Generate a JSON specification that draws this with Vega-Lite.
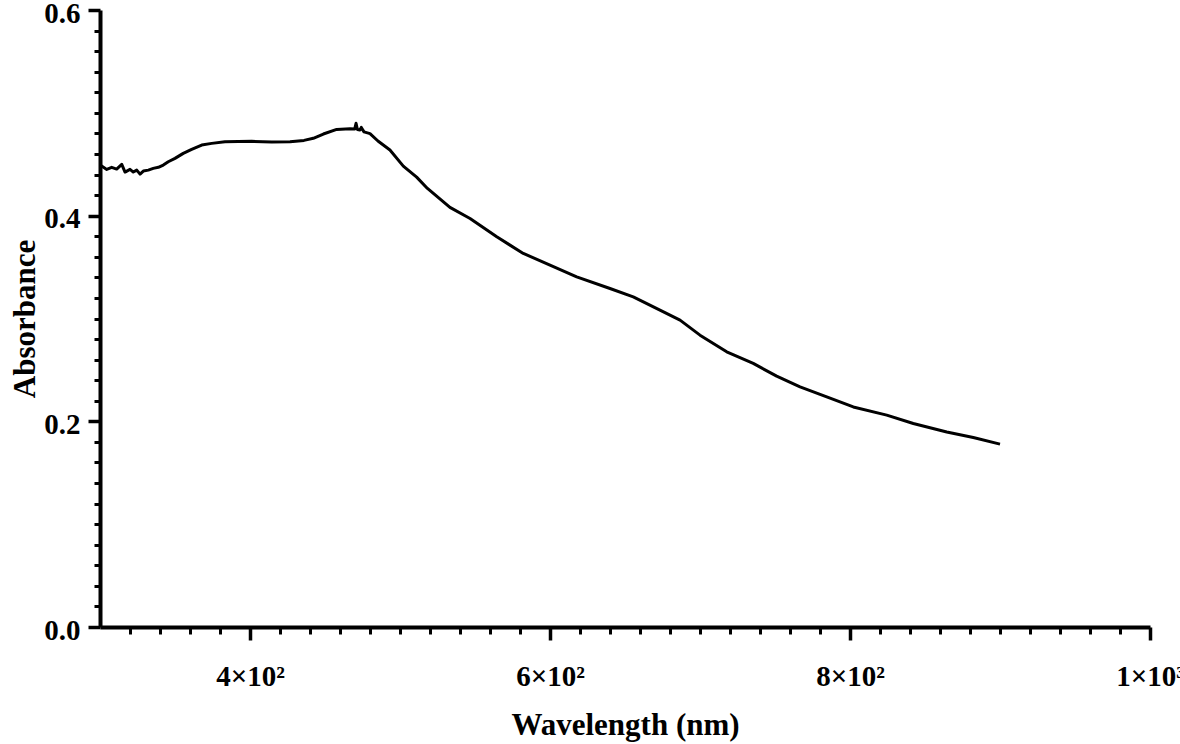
{
  "$schema": "https://vega.github.io/schema/vega-lite/v6.json",
  "width": 1050,
  "height": 617,
  "autosize": {"type": "none"},
  "padding": {"left": 100, "top": 10, "right": 30, "bottom": 117},
  "background": "white",
  "config": {
    "view": {"stroke": null},
    "axis": {
      "grid": false,
      "labelFont": "Liberation Serif",
      "labelFontWeight": "bold",
      "labelFontSize": 29,
      "labelColor": "black",
      "titleFont": "Liberation Serif",
      "titleFontWeight": "bold",
      "titleFontSize": 31,
      "titleColor": "black"
    }
  },
  "data": {
    "values": [
      {"wavelength": 300.0, "absorbance": 0.449},
      {"wavelength": 301.1, "absorbance": 0.4482},
      {"wavelength": 304.5, "absorbance": 0.445},
      {"wavelength": 307.8, "absorbance": 0.447},
      {"wavelength": 311.1, "absorbance": 0.4453},
      {"wavelength": 314.5, "absorbance": 0.4499},
      {"wavelength": 316.7, "absorbance": 0.4424},
      {"wavelength": 320.0, "absorbance": 0.445},
      {"wavelength": 322.2, "absorbance": 0.4424},
      {"wavelength": 324.5, "absorbance": 0.4443},
      {"wavelength": 326.7, "absorbance": 0.4404},
      {"wavelength": 328.9, "absorbance": 0.4434},
      {"wavelength": 332.2, "absorbance": 0.4443},
      {"wavelength": 335.5, "absorbance": 0.446},
      {"wavelength": 338.9, "absorbance": 0.447},
      {"wavelength": 342.2, "absorbance": 0.4492},
      {"wavelength": 345.5, "absorbance": 0.4524},
      {"wavelength": 350.0, "absorbance": 0.4557},
      {"wavelength": 355.5, "absorbance": 0.4606},
      {"wavelength": 361.1, "absorbance": 0.4645},
      {"wavelength": 367.8, "absorbance": 0.4687},
      {"wavelength": 374.5, "absorbance": 0.4703},
      {"wavelength": 383.3, "absorbance": 0.4719},
      {"wavelength": 401.1, "absorbance": 0.4723},
      {"wavelength": 414.5, "absorbance": 0.4716},
      {"wavelength": 426.7, "absorbance": 0.4719},
      {"wavelength": 436.0, "absorbance": 0.4732},
      {"wavelength": 442.2, "absorbance": 0.4752},
      {"wavelength": 448.9, "absorbance": 0.4794},
      {"wavelength": 457.8, "absorbance": 0.4839},
      {"wavelength": 466.7, "absorbance": 0.4845},
      {"wavelength": 469.8, "absorbance": 0.4842},
      {"wavelength": 470.7, "absorbance": 0.4898},
      {"wavelength": 471.6, "absorbance": 0.4838},
      {"wavelength": 473.3, "absorbance": 0.4833},
      {"wavelength": 474.2, "absorbance": 0.4858},
      {"wavelength": 476.0, "absorbance": 0.4815},
      {"wavelength": 480.0, "absorbance": 0.4798},
      {"wavelength": 485.3, "absorbance": 0.4726},
      {"wavelength": 493.3, "absorbance": 0.4638},
      {"wavelength": 502.2, "absorbance": 0.4482},
      {"wavelength": 511.1, "absorbance": 0.4375},
      {"wavelength": 518.3, "absorbance": 0.4265},
      {"wavelength": 533.3, "absorbance": 0.408},
      {"wavelength": 546.7, "absorbance": 0.3973},
      {"wavelength": 564.5, "absorbance": 0.3794},
      {"wavelength": 582.2, "absorbance": 0.3633},
      {"wavelength": 600.0, "absorbance": 0.3519},
      {"wavelength": 617.8, "absorbance": 0.3405},
      {"wavelength": 640.0, "absorbance": 0.3292},
      {"wavelength": 655.5, "absorbance": 0.3211},
      {"wavelength": 673.3, "absorbance": 0.3081},
      {"wavelength": 686.7, "absorbance": 0.2984},
      {"wavelength": 700.0, "absorbance": 0.2838},
      {"wavelength": 717.8, "absorbance": 0.2676},
      {"wavelength": 735.5, "absorbance": 0.2563},
      {"wavelength": 751.1, "absorbance": 0.2439},
      {"wavelength": 766.7, "absorbance": 0.2335},
      {"wavelength": 784.5, "absorbance": 0.2238},
      {"wavelength": 802.2, "absorbance": 0.214},
      {"wavelength": 824.5, "absorbance": 0.206},
      {"wavelength": 842.2, "absorbance": 0.1979},
      {"wavelength": 864.5, "absorbance": 0.1897},
      {"wavelength": 882.2, "absorbance": 0.1843},
      {"wavelength": 900.0, "absorbance": 0.1778}
    ]
  },
  "layer": [
    {
      "mark": {"type": "line", "opacity": 0},
      "encoding": {
        "x": {
          "field": "wavelength", "type": "quantitative",
          "scale": {"domain": [300, 1000], "nice": false, "zero": false},
          "axis": {
            "orient": "bottom",
            "title": null,
            "labels": false,
            "domain": false,
            "tickColor": "black",
            "tickWidth": 3,
            "values": [320, 340, 360, 380, 420, 440, 460, 480, 500, 520, 540, 560, 580, 620, 640, 660, 680, 700, 720, 740, 760, 780, 820, 840, 860, 880, 900, 920, 940, 960, 980],
            "tickSize": 7
          }
        },
        "y": {
          "field": "absorbance", "type": "quantitative",
          "scale": {"domain": [0, 0.6], "nice": false},
          "axis": {
            "orient": "left",
            "title": null,
            "labels": false,
            "domain": false,
            "tickColor": "black",
            "tickWidth": 3,
            "values": [0.02, 0.04, 0.06, 0.08, 0.1, 0.12, 0.14, 0.16, 0.18, 0.22, 0.24, 0.26, 0.28, 0.3, 0.32, 0.34, 0.36, 0.38, 0.42, 0.44, 0.46, 0.48, 0.5, 0.52, 0.54, 0.56, 0.58],
            "tickSize": 6
          }
        }
      }
    },
    {
      "mark": {"type": "line", "color": "black", "strokeWidth": 3, "strokeJoin": "round"},
      "encoding": {
        "x": {
          "field": "wavelength", "type": "quantitative",
          "axis": {
            "orient": "bottom",
            "title": "Wavelength (nm)",
            "values": [400, 600, 800, 1000],
            "labelExpr": "datum.value == 1000 ? '1×10³' : (datum.value / 100) + '×10²'",
            "domainColor": "black",
            "domainWidth": 4,
            "tickColor": "black",
            "tickWidth": 3.5,
            "tickSize": 13,
            "labelPadding": 22,
            "titlePadding": 19,
            "labelFlush": false,
            "labelOverlap": false
          }
        },
        "y": {
          "field": "absorbance", "type": "quantitative",
          "axis": {
            "orient": "left",
            "title": "Absorbance",
            "values": [0, 0.2, 0.4, 0.6],
            "format": ".1f",
            "domainColor": "black",
            "domainWidth": 4,
            "tickColor": "black",
            "tickWidth": 3.5,
            "tickSize": 12,
            "labelPadding": 8,
            "labelOffset": 3,
            "titlePadding": 2,
            "labelFlush": false,
            "labelOverlap": false
          }
        }
      }
    }
  ],
  "resolve": {"axis": {"x": "independent", "y": "independent"}}
}
